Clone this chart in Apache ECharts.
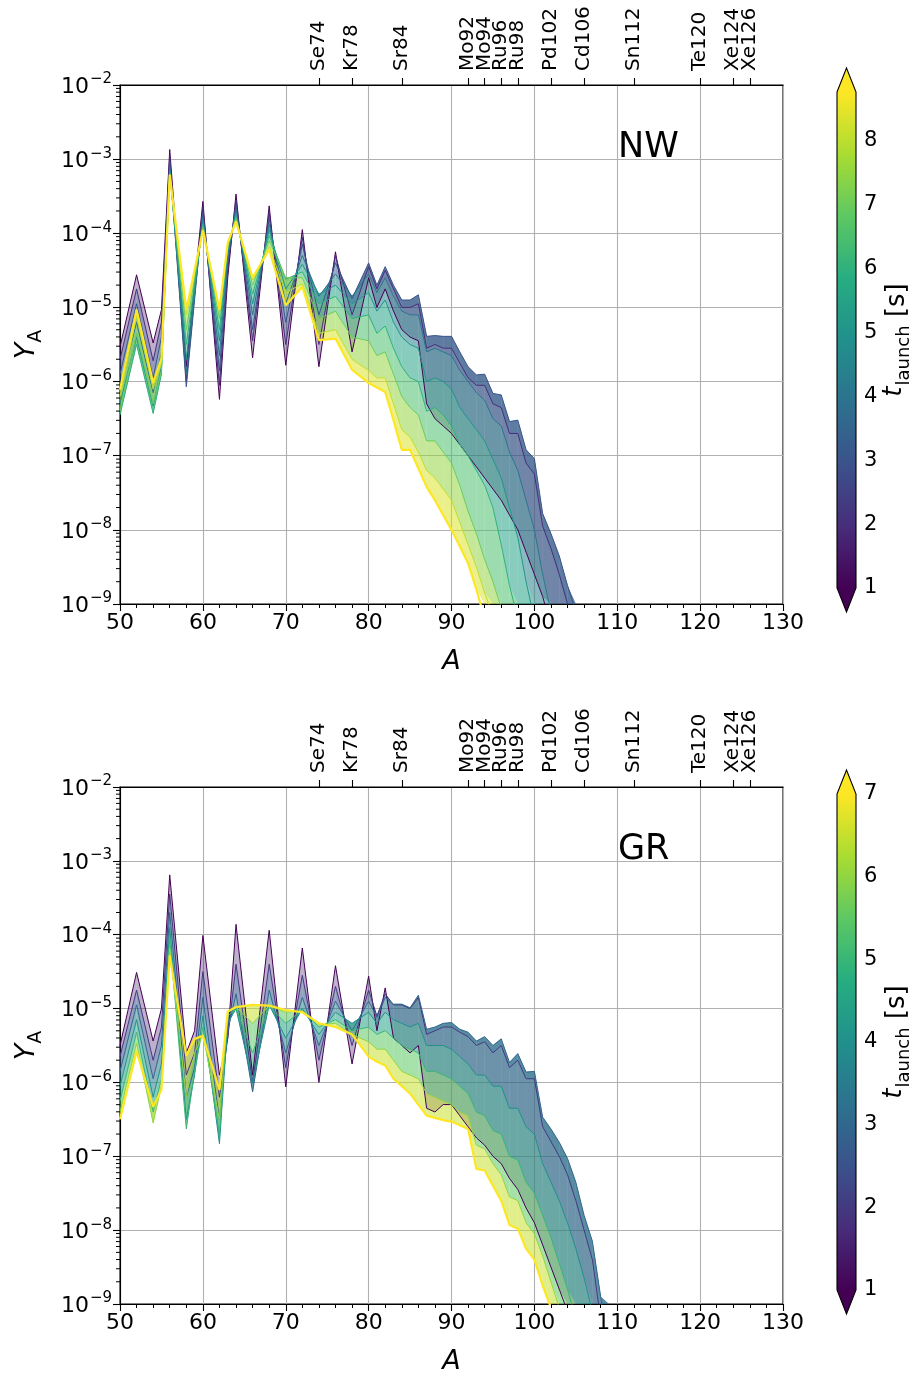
<!DOCTYPE html>
<html><head><meta charset="utf-8">
<script src="https://cdn.jsdelivr.net/npm/echarts@6/dist/echarts.min.js"></script>
<style>html,body{margin:0;padding:0;background:#fff}#c{width:924px;height:1376px}</style>
</head><body><div id="c"></div>
<script>
// ---------------- DATA (log10 of Y_A) ----------------
const nwTimes = [1.0, 2.0, 3.0, 4.0, 5.0, 6.0, 7.0, 8.0, 8.76];
const nwA = [50,52,54,55,56,58,60,62,63,64,66,68,70,72,74,76,78,80,81,82,83,84,85,86,87,88,89,90,91,92,93,94,95,96,97,98,99,100,101,102,103,104,105,106];
const nwLog_t1 = [-5.53,-4.56,-5.48,-5.03,-2.87,-5.8,-3.57,-6.24,-4.6,-3.47,-5.68,-3.63,-5.78,-3.95,-5.80,-4.25,-5.6,-4.6,-5.0,-4.75,-5.05,-5.3,-5.4,-5.45,-6.3,-6.5,-6.6,-6.7,-6.85,-7.0,-7.15,-7.3,-7.45,-7.6,-7.8,-8.0,-8.3,-8.6,-8.9,-9.3,-9.7,-10,-10,-10];
const nwLog_t2 = [-5.7,-4.75,-5.72,-5.2,-2.95,-6.0,-3.65,-6.05,-4.5,-3.55,-5.45,-3.72,-5.5,-4.05,-5.5,-4.3,-5.1,-4.45,-4.75,-4.5,-4.75,-5.0,-5.0,-4.95,-5.55,-5.5,-5.55,-5.55,-5.75,-5.95,-6.05,-6.05,-6.3,-6.35,-6.7,-6.7,-7.1,-7.25,-7.95,-8.25,-8.6,-9.0,-9.4,-10];
const nwLog_t3 = [-5.9,-4.95,-5.95,-5.4,-3.03,-6.07,-3.72,-5.85,-4.4,-3.62,-5.3,-3.8,-5.2,-4.15,-5.1,-4.4,-4.88,-4.40,-4.70,-4.45,-4.7,-4.9,-4.9,-4.83,-5.39,-5.38,-5.39,-5.39,-5.6,-5.8,-5.91,-5.90,-6.16,-6.18,-6.54,-6.52,-6.92,-7.04,-7.78,-8.05,-8.35,-8.75,-9.1,-9.6];
const nwLog_t4 = [-6.1,-5.2,-6.15,-5.6,-3.1,-5.9,-3.78,-5.65,-4.3,-3.68,-5.1,-3.88,-4.95,-4.3,-4.85,-4.55,-4.85,-4.55,-4.8,-4.6,-4.85,-5.05,-5.1,-5.1,-5.6,-5.55,-5.6,-5.65,-5.85,-6.0,-6.15,-6.25,-6.5,-6.6,-6.95,-7.2,-7.6,-8.0,-8.6,-9.1,-9.6,-10,-10,-10];
const nwLog_t5 = [-6.3,-5.4,-6.33,-5.8,-3.15,-5.7,-3.83,-5.45,-4.25,-3.73,-4.95,-3.95,-4.75,-4.42,-4.82,-4.7,-4.95,-4.8,-5.05,-4.9,-5.2,-5.4,-5.5,-5.55,-6.0,-5.95,-6.0,-6.1,-6.35,-6.5,-6.65,-6.8,-7.05,-7.3,-7.7,-8.1,-8.7,-9.2,-9.8,-10,-10,-10,-10,-10];
const nwLog_t6 = [-6.45,-5.5,-6.43,-5.9,-3.18,-5.5,-3.88,-5.3,-4.2,-3.77,-4.82,-4.03,-4.62,-4.52,-4.95,-4.85,-5.15,-5.1,-5.35,-5.25,-5.55,-5.8,-5.95,-6.0,-6.4,-6.35,-6.45,-6.6,-6.85,-7.0,-7.2,-7.4,-7.7,-8.2,-8.75,-9.2,-9.8,-10,-10,-10,-10,-10,-10,-10];
const nwLog_t7 = [-6.4,-5.35,-6.3,-5.85,-3.2,-5.3,-3.92,-5.15,-4.15,-3.8,-4.7,-4.1,-4.6,-4.6,-5.15,-5.05,-5.4,-5.45,-5.65,-5.6,-5.9,-6.2,-6.35,-6.45,-6.8,-6.8,-6.95,-7.1,-7.4,-7.75,-8.05,-8.4,-8.7,-9.05,-9.5,-10,-10,-10,-10,-10,-10,-10,-10,-10];
const nwLog_t8 = [-6.2,-5.12,-6.1,-5.75,-3.21,-5.1,-3.95,-5.06,-4.13,-3.83,-4.63,-4.18,-4.8,-4.68,-5.35,-5.3,-5.7,-5.85,-5.95,-5.95,-6.3,-6.65,-6.75,-6.95,-7.2,-7.3,-7.45,-7.6,-7.9,-8.2,-8.5,-8.85,-9.15,-9.6,-10,-10,-10,-10,-10,-10,-10,-10,-10,-10];
const nwLog_t9 = [-6.11,-5.03,-6.02,-5.69,-3.21,-5.03,-3.96,-5.03,-4.13,-3.84,-4.60,-4.22,-4.97,-4.72,-5.44,-5.42,-5.84,-6.02,-6.08,-6.14,-6.52,-6.92,-6.92,-7.17,-7.42,-7.6,-7.8,-8.0,-8.22,-8.45,-8.8,-9.2,-9.6,-10,-10,-10,-10,-10,-10,-10,-10,-10,-10,-10];

const grTimes = [1.0, 2.0, 3.0, 4.0, 5.0, 6.0, 7.0];
const grA = [50,52,54,55,56,58,59,60,62,63,64,66,68,70,72,74,76,78,80,81,82,83,84,85,86,87,88,89,90,91,92,93,94,95,96,97,98,99,100,101,102,103,104,105,106,107,108,109,110];
const grLog_t1 = [-5.5,-4.51,-5.44,-5.0,-3.19,-5.6,-5.3,-4.01,-5.9,-5.4,-3.86,-5.9,-3.94,-6.06,-4.18,-6.0,-4.42,-5.75,-4.56,-5.3,-4.72,-5.4,-5.5,-5.6,-5.5,-6.35,-6.4,-6.3,-6.3,-6.45,-6.6,-6.75,-6.85,-7.0,-7.1,-7.3,-7.45,-7.7,-7.9,-8.2,-8.5,-8.8,-9.1,-9.5,-10,-10,-10,-10,-10];
const grLog_t2 = [-5.65,-4.75,-5.7,-5.25,-3.45,-5.9,-5.6,-4.5,-6.2,-5.4,-4.4,-6.0,-4.4,-5.8,-4.55,-5.7,-4.7,-5.5,-4.75,-5.1,-4.8,-4.95,-4.95,-5.0,-4.85,-5.35,-5.3,-5.25,-5.25,-5.32,-5.38,-5.5,-5.45,-5.6,-5.5,-5.8,-5.7,-5.95,-5.95,-6.6,-6.8,-7.0,-7.25,-7.6,-8.0,-8.4,-9.2,-10,-10];
const grLog_t3 = [-5.85,-4.95,-5.95,-5.5,-3.7,-6.2,-5.8,-4.85,-6.5,-5.3,-4.8,-6.13,-4.75,-5.6,-4.85,-5.5,-4.9,-5.3,-4.9,-5.12,-4.85,-4.94,-4.94,-4.99,-4.82,-5.28,-5.25,-5.2,-5.19,-5.28,-5.32,-5.44,-5.38,-5.50,-5.41,-5.73,-5.61,-5.86,-5.85,-6.47,-6.63,-6.81,-7.03,-7.35,-7.80,-8.15,-8.9,-9.6,-10];
const grLog_t4 = [-6.05,-5.15,-6.2,-5.75,-3.9,-6.5,-5.9,-5.1,-6.83,-5.2,-5.0,-6.0,-4.95,-5.4,-5.0,-5.35,-5.05,-5.2,-5.05,-5.2,-5.05,-5.15,-5.2,-5.25,-5.2,-5.5,-5.5,-5.5,-5.55,-5.65,-5.75,-5.9,-5.9,-6.05,-6.05,-6.35,-6.35,-6.6,-6.7,-7.1,-7.35,-7.6,-7.9,-8.25,-8.65,-9.1,-9.6,-10,-10];
const grLog_t5 = [-6.25,-5.32,-6.4,-5.95,-4.05,-6.63,-5.85,-5.25,-6.7,-5.1,-5.0,-5.6,-4.97,-5.2,-5.02,-5.25,-5.15,-5.3,-5.25,-5.35,-5.3,-5.4,-5.5,-5.55,-5.6,-5.85,-5.85,-5.9,-5.95,-6.05,-6.15,-6.4,-6.45,-6.65,-6.7,-7.0,-7.05,-7.35,-7.5,-7.8,-8.1,-8.45,-8.8,-9.2,-9.7,-10,-10,-10,-10];
const grLog_t6 = [-6.4,-5.47,-6.55,-6.05,-4.18,-6.2,-5.6,-5.35,-6.5,-5.05,-4.98,-5.2,-4.96,-5.05,-5.03,-5.22,-5.2,-5.35,-5.45,-5.55,-5.55,-5.7,-5.85,-5.9,-5.95,-6.15,-6.2,-6.25,-6.3,-6.4,-6.45,-6.85,-6.9,-7.1,-7.25,-7.55,-7.6,-7.9,-8.05,-8.35,-8.7,-9.05,-9.4,-10,-10,-10,-10,-10,-10];
const grLog_t7 = [-6.5,-5.58,-6.33,-6.1,-4.28,-5.64,-5.41,-5.37,-6.1,-5.04,-4.98,-4.95,-4.96,-5.02,-5.05,-5.2,-5.25,-5.35,-5.65,-5.72,-5.77,-5.95,-6.05,-6.15,-6.3,-6.45,-6.48,-6.51,-6.53,-6.58,-6.63,-7.17,-7.19,-7.4,-7.6,-7.93,-7.98,-8.25,-8.4,-8.75,-9.05,-9.4,-10,-10,-10,-10,-10,-10,-10];

const topIsotopeA = [74,78,84,92,94,96,98,102,106,112,120,124,126];
const topIsotopeNames = ['Se74','Kr78','Sr84','Mo92','Mo94','Ru96','Ru98','Pd102','Cd106','Sn112','Te120','Xe124','Xe126'];
const nwCbTicks = [1,2,3,4,5,6,7,8];
const grCbTicks = [1,2,3,4,5,6,7];

// ---------------- helpers ----------------
const FONT = 'DejaVu Sans';
const VIR = ['#440154','#472d7b','#3b528b','#2c728e','#21908c','#27ad81','#5dc863','#aadc32','#fde725'];
function h2r(h){return [parseInt(h.slice(1,3),16),parseInt(h.slice(3,5),16),parseInt(h.slice(5,7),16)];}
function viridis(f){
  f=Math.max(0,Math.min(1,f)); const n=VIR.length-1; const p=f*n;
  const i=Math.min(n-1,Math.floor(p)); const u=p-i; const a=h2r(VIR[i]), b=h2r(VIR[i+1]);
  return 'rgb('+a.map((v,j)=>Math.round(v+(b[j]-v)*u)).join(',')+')';
}
const panels = [
  {A:nwA, times:nwTimes, curves:[nwLog_t1,nwLog_t2,nwLog_t3,nwLog_t4,nwLog_t5,nwLog_t6,nwLog_t7,nwLog_t8,nwLog_t9], tmin:1, tmax:8.76, cbTicks:nwCbTicks, top:85, cbTop:92, label:'NW'},
  {A:grA, times:grTimes, curves:[grLog_t1,grLog_t2,grLog_t3,grLog_t4,grLog_t5,grLog_t6,grLog_t7], tmin:1, tmax:7.0, cbTicks:grCbTicks, top:787, cbTop:794, label:'GR'}
];
const GL = 120, GW = 663, GH = 519;

const grid=[], xAxis=[], yAxis=[], series=[], graphic=[];
panels.forEach((P, pi) => {
  const gi = grid.length;
  grid.push({left:GL, top:P.top, width:GW, height:GH, show:true, borderColor:'#000', borderWidth:1.1, backgroundColor:'rgba(0,0,0,0)', containLabel:false});
  const xb = xAxis.length;
  xAxis.push({gridIndex:gi, type:'value', position:'bottom', min:50, max:130, interval:10,
    axisLine:{show:true, onZero:false, lineStyle:{color:'#000', width:1.1}},
    axisTick:{show:true, inside:false, length:7, lineStyle:{color:'#000', width:1.1}},
    minorTick:{show:true, splitNumber:5, length:4, lineStyle:{color:'#000', width:1}},
    axisLabel:{color:'#000', fontSize:22, fontFamily:FONT, margin:8},
    splitLine:{show:true, lineStyle:{color:'#b0b0b0', width:1.1}},
    name:'A', nameLocation:'middle', nameGap:44,
    nameTextStyle:{color:'#000', fontSize:27, fontStyle:'italic', fontFamily:FONT}});
  const xt = xAxis.length;
  xAxis.push({gridIndex:gi, type:'value', position:'top', min:50, max:130,
    axisLine:{show:true, onZero:false, lineStyle:{color:'#000', width:1.1}},
    axisTick:{show:true, inside:false, length:7, customValues:topIsotopeA, lineStyle:{color:'#000', width:1.1}},
    axisLabel:{show:false}, splitLine:{show:false}});
  const yb = yAxis.length;
  yAxis.push({gridIndex:gi, type:'log', logBase:10, min:1e-9, max:1e-2, splitNumber:7,
    axisLine:{show:true, onZero:false, lineStyle:{color:'#000', width:1.1}},
    axisTick:{show:true, inside:false, length:7, lineStyle:{color:'#000', width:1.1}},
    axisLabel:{color:'#000', fontFamily:FONT, margin:8,
      formatter:(v)=>{const e=Math.round(Math.log10(v)); return '{b|10}{s|'+String(e).replace('-','\u2212')+'}';},
      rich:{b:{fontSize:22, fontFamily:FONT, color:'#000', verticalAlign:'bottom'}, s:{fontSize:15, fontFamily:FONT, color:'#000', verticalAlign:'bottom', padding:[0,0,11,1]}}},
    splitLine:{show:true, lineStyle:{color:'#b0b0b0', width:1.1}},
    name:'{i|Y}{s|A}', nameLocation:'middle', nameGap:74, nameRotate:90,
    nameTextStyle:{rich:{i:{fontSize:27, fontStyle:'italic', fontFamily:FONT, color:'#000', verticalAlign:'bottom', padding:[0,0,6,0]}, s:{fontSize:19, fontFamily:FONT, color:'#000', verticalAlign:'bottom'}}}});

  // isotope labels of the top axis, placed through the top axis scale
  series.push({type:'custom', xAxisIndex:xt, yAxisIndex:yb, silent:true, animation:false, clip:false, z:10,
    encode:{x:0, y:1}, data:topIsotopeA.map((a,i)=>[a, 1e-2, i]),
    renderItem:(params, api)=>{
      const p=api.coord([api.value(0), api.value(1)]);
      return {type:'text', x:p[0], y:p[1]-14, rotation:Math.PI/2,
        style:{text:topIsotopeNames[api.value(2)], x:0, y:0, align:'left', verticalAlign:'middle', fontSize:20, fontFamily:FONT, fill:'#000'}};
    }});

  // fills between successive curves (the swept region of the dense family of lines)
  const fillData = [];
  for (let k=0; k<P.curves.length-1; k++) {
    const c0=P.curves[k], c1=P.curves[k+1];
    for (let i=0;i<P.A.length-1;i++) {
      fillData.push([P.A[i], P.A[i+1], Math.pow(10,c0[i]), Math.pow(10,c0[i+1]), Math.pow(10,c1[i+1]), Math.pow(10,c1[i]), k]);
    }
  }
  series.push({type:'custom', xAxisIndex:xb, yAxisIndex:yb, silent:true, animation:false, z:2,
    encode:{x:[0,1], y:[2,3,4,5]}, data:fillData,
    renderItem:(params, api)=>{
      const a0=api.value(0), a1=api.value(1);
      const pts=[api.coord([a0,api.value(2)]), api.coord([a1,api.value(3)]), api.coord([a1,api.value(4)]), api.coord([a0,api.value(5)])];
      const cs=params.coordSys;
      const clipped = echarts.graphic.clipPointsByRect(pts, {x:cs.x, y:cs.y, width:cs.width, height:cs.height});
      const k=api.value(6);
      const tm=(P.times[k]+P.times[k+1])/2;
      return {type:'polygon', shape:{points:clipped}, style:{fill:viridis((tm-P.tmin)/(P.tmax-P.tmin)), opacity:(k===0?0.35:0.55), stroke:null}};
    }});
  // curves
  P.curves.forEach((c, k) => {
    const last = k===P.curves.length-1;
    series.push({type:'line', xAxisIndex:xb, yAxisIndex:yb, silent:true, animation:false, showSymbol:false, symbol:'none', clip:true, z:3+k,
      data:P.A.map((a,i)=>[a, Math.pow(10,c[i])]),
      lineStyle:{width:last?2.2:1.0, color:viridis((P.times[k]-P.tmin)/(P.tmax-P.tmin))}});
  });
  // minor ticks on log axis (2..9 x 10^k)
  const minor=[];
  for (let e=-9;e<-2;e++) for (let m=2;m<=9;m++) minor.push([50, m*Math.pow(10,e)]);
  series.push({type:'custom', xAxisIndex:xb, yAxisIndex:yb, silent:true, animation:false, z:10, clip:false,
    encode:{x:0,y:1}, data:minor,
    renderItem:(params, api)=>{const p=api.coord([api.value(0), api.value(1)]);
      return {type:'line', shape:{x1:p[0]-4, y1:p[1], x2:p[0], y2:p[1]}, style:{stroke:'#000', lineWidth:1}};}});

  // colorbar
  const cgi = grid.length;
  grid.push({left:837, top:P.cbTop, width:19, height:496, show:false});
  const cx = xAxis.length;
  xAxis.push({gridIndex:cgi, type:'value', min:0, max:1, show:false});
  const cy = yAxis.length;
  yAxis.push({gridIndex:cgi, type:'value', position:'right', min:P.tmin, max:P.tmax,
    axisLine:{show:false}, splitLine:{show:false},
    axisTick:{show:true, inside:false, length:7, customValues:P.cbTicks, lineStyle:{color:'#000', width:1.1}},
    axisLabel:{show:true, customValues:P.cbTicks, color:'#000', fontSize:21, fontFamily:FONT, margin:8},
    name:'{i|t}{s|launch} [s]', nameLocation:'middle', nameGap:36, nameRotate:90,
    nameTextStyle:{color:'#000', fontSize:26, fontFamily:FONT, verticalAlign:'bottom',
      rich:{i:{fontSize:26, fontStyle:'italic', fontFamily:FONT, color:'#000', verticalAlign:'bottom', padding:[0,1,6,0]}, s:{fontSize:18, fontFamily:FONT, color:'#000', verticalAlign:'bottom'}}}});
  const stops = VIR.map((c,i)=>({offset:i/(VIR.length-1), color:c}));
  series.push({type:'custom', xAxisIndex:cx, yAxisIndex:cy, silent:true, animation:false, clip:false, z:5,
    encode:{x:0,y:[1,2]}, data:[[0, P.tmin, P.tmax]],
    renderItem:(params, api)=>{
      const p0=api.coord([0, api.value(1)]), p1=api.coord([1, api.value(2)]);
      const x0=p0[0], x1=p1[0], yb2=p0[1], yt=p1[1], xm=(x0+x1)/2, ext=24;
      return {type:'group', children:[
        {type:'rect', shape:{x:x0, y:yt, width:x1-x0, height:yb2-yt}, style:{fill:new echarts.graphic.LinearGradient(0,1,0,0,stops)}},
        {type:'polygon', shape:{points:[[x0,yt+0.5],[xm,yt-ext],[x1,yt+0.5]]}, style:{fill:VIR[VIR.length-1]}},
        {type:'polygon', shape:{points:[[x0,yb2-0.5],[xm,yb2+ext],[x1,yb2-0.5]]}, style:{fill:VIR[0]}},
        {type:'polygon', shape:{points:[[x0,yt],[xm,yt-ext],[x1,yt],[x1,yb2],[xm,yb2+ext],[x0,yb2]]}, style:{fill:null, stroke:'#000', lineWidth:1.1}}
      ]};
    }});
  graphic.push({type:'text', left:618, top:P.top+45, style:{text:P.label, fontSize:35, fontFamily:FONT, fill:'#000'}});
});

const chart = echarts.init(document.getElementById('c'), null, {renderer:'canvas'});
chart.setOption({backgroundColor:'#fff', animation:false, grid, xAxis, yAxis, series, graphic});
</script></body></html>
